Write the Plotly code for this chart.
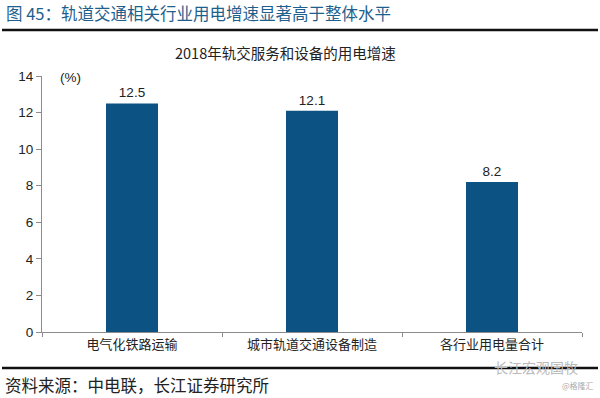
import plotly.graph_objects as go

categories = ["电气化铁路运输", "城市轨道交通设备制造", "各行业用电量合计"]
values = [12.5, 12.1, 8.2]
y_ticks = [0, 2, 4, 6, 8, 10, 12, 14]

W, H = 600, 398
L, R, T, B = 42, 18, 76, 66
PW, PH = W - L - R, H - T - B
FONT = "Noto Sans CJK SC, Liberation Sans, sans-serif"
NUMFONT = "Liberation Sans, Noto Sans CJK SC, sans-serif"

def px(x):
    return (x - L) / PW

def py(y):
    return (H - B - y) / PH

fig = go.Figure(go.Bar(
    x=categories, y=values,
    marker=dict(color="#0c5384", line=dict(width=0)),
    width=52 / 180,
    text=[f"{v:.1f}" for v in values],
    textposition="outside",
    textfont=dict(size=13.5, color="#222222", family=NUMFONT),
    cliponaxis=False,
))

fig.update_layout(
    width=W, height=H,
    margin=dict(l=L, r=R, t=T, b=B),
    paper_bgcolor="white", plot_bgcolor="white",
    showlegend=False,
    font=dict(family=FONT, size=13, color="#222222"),
    xaxis=dict(
        showline=True, linecolor="#8c8c8c", linewidth=1,
        ticks="outside", tickson="boundaries", ticklen=4, tickcolor="#8c8c8c",
        tickfont=dict(size=13, color="#222222", family=FONT),
        showgrid=False,
    ),
    yaxis=dict(
        range=[0, 14], tickvals=y_ticks,
        showline=True, linecolor="#8c8c8c", linewidth=1,
        ticks="outside", ticklen=5, tickcolor="#8c8c8c",
        tickfont=dict(size=13.5, color="#222222", family=NUMFONT),
        showgrid=False, zeroline=False,
    ),
    shapes=[
        dict(type="line", xref="paper", yref="paper",
             x0=px(2), x1=px(598), y0=py(30), y1=py(30),
             line=dict(color="#111111", width=2.5)),
        dict(type="line", xref="paper", yref="paper",
             x0=px(2), x1=px(598), y0=py(368), y1=py(368),
             line=dict(color="#111111", width=2.5)),
    ],
    annotations=[
        dict(text="图 45：轨道交通相关行业用电增速显著高于整体水平",
             xref="paper", yref="paper", x=px(4), y=py(13),
             xanchor="left", yanchor="middle", showarrow=False,
             font=dict(size=16.5, color="#1f5f8e", family=FONT)),
        dict(text="2018年轨交服务和设备的用电增速",
             xref="paper", yref="paper", x=px(285), y=py(52),
             xanchor="center", yanchor="middle", showarrow=False,
             font=dict(size=14.5, color="#222222", family=FONT)),
        dict(text="(%)",
             xref="paper", yref="paper", x=px(70), y=py(77),
             xanchor="center", yanchor="middle", showarrow=False,
             font=dict(size=13.5, color="#222222", family=NUMFONT)),
        dict(text="资料来源：中电联，长江证券研究所",
             xref="paper", yref="paper", x=px(3), y=py(385),
             xanchor="left", yanchor="middle", showarrow=False,
             font=dict(size=16.5, color="#222222", family=FONT)),
        dict(text="长江宏观国牧",
             xref="paper", yref="paper", x=px(580), y=py(367),
             xanchor="right", yanchor="middle", showarrow=False,
             font=dict(size=14, color="#bbbbbb", family=FONT)),
        dict(text="@格隆汇",
             xref="paper", yref="paper", x=px(596), y=py(385),
             xanchor="right", yanchor="middle", showarrow=False,
             font=dict(size=8, color="#aaaaaa", family=FONT)),
    ],
)

fig.write_html("out.html")
